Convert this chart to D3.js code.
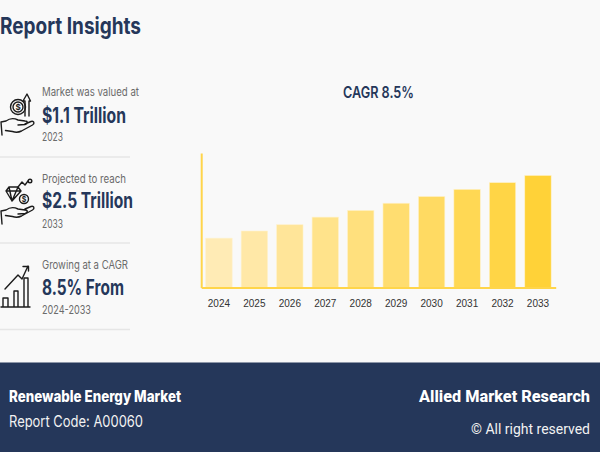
<!DOCTYPE html>
<html>
<head>
<meta charset="utf-8">
<script src="https://cdn.jsdelivr.net/npm/d3@7"></script>
<style>
  html, body { margin: 0; padding: 0; background: #f9f9f9; overflow: hidden; }
  svg { display: block; }
  text { font-family: "Inter", "Noto Sans", sans-serif; }
  .tick text { font-family: "Liberation Sans", Arial, sans-serif; }
  .narrow { font-family: Roboto, sans-serif; }
  .icon { fill: none; stroke: #1c1c1c; stroke-width: 1.4; stroke-linejoin: round; stroke-linecap: round; }
</style>
</head>
<body>
<div id="chart"></div>
<script>
/* chart values */
const years = ["2024", "2025", "2026", "2027", "2028", "2029", "2030", "2031", "2032", "2033"];
const values = [1.10, 1.26, 1.40, 1.57, 1.72, 1.88, 2.03, 2.19, 2.34, 2.50];

/* left column text */
const insightLabels = ["Market was valued at", "Projected to reach", "Growing at a CAGR"];
const insightValues = ["$1.1 Trillion", "$2.5 Trillion", "8.5% From"];
const insightYears = ["2023", "2033", "2024-2033"];

const width = 600;
const height = 452;
const navy = "#25375a";
const axisColor = "#ffd54a";

const svg = d3.select("#chart")
    .append("svg")
    .attr("width", width)
    .attr("height", height);

svg.append("rect")
    .attr("width", width)
    .attr("height", height)
    .attr("fill", "#f9f9f9");

// squeezes a text to the width it has in the picture
function label(str, x, y, size, weight, color, w) {
    return svg.append("text")
        .attr("x", x)
        .attr("y", y)
        .attr("font-size", size)
        .attr("font-weight", weight)
        .attr("fill", color)
        .attr("textLength", w)
        .attr("lengthAdjust", "spacingAndGlyphs")
        .text(str);
}

label("Report Insights", 0, 34, 23, 700, navy, 141);
label("CAGR 8.5%", 343, 98, 16, 600, navy, 71);

/* insight rows */
const rows = [
    { labelY: 96, valueY: 123, yearY: 141, ruleY: 157, lw: 97, vw: 84, yw: 21 },
    { labelY: 183, valueY: 208, yearY: 228, ruleY: 243, lw: 84, vw: 91, yw: 21 },
    { labelY: 269, valueY: 295, yearY: 314, ruleY: 329.5, lw: 86, vw: 82, yw: 49 }
];

rows.forEach((r, i) => {
    label(insightLabels[i], 42, r.labelY, 11.5, 400, "#6b6b6b", r.lw);
    label(insightValues[i], 42, r.valueY, 21, 700, navy, r.vw);
    label(insightYears[i], 42, r.yearY, 11.5, 400, "#6b6b6b", r.yw);
    svg.append("line")
        .attr("x1", 0)
        .attr("x2", 130)
        .attr("y1", r.ruleY)
        .attr("y2", r.ruleY)
        .attr("stroke", "#e6e6e6")
        .attr("stroke-width", 1.3);
});

/* icons */
const icons = svg.append("g").attr("class", "icon");
const hand = "M1 {a}l5 -1c4 -3 8 -3 12 -1l7 1c3 0 3 3 0 3.5l-7 0.5 M25 {b}l6 -2.5c3 -1 4 2 1.5 3.5l-11 6c-3 1.5 -6 1.5 -9 0.5l-7 -1 M1 {a}l1 13";

// first row: coin, arrow, hand
icons.append("circle").attr("cx", 18).attr("cy", 107).attr("r", 7.5);
icons.append("circle").attr("cx", 18).attr("cy", 107).attr("r", 5);
icons.append("path").attr("d", "M25 116V101H23L27 94L30.5 101H29V116");
icons.append("path").attr("d", hand.replace(/\{a\}/g, "122").replace("{b}", "124"));
icons.append("text").attr("x", 18).attr("y", 110).attr("font-size", 8).attr("font-weight", 700)
    .attr("text-anchor", "middle").attr("fill", "#222").attr("stroke", "none").text("$");

// second row: diamond, coin, zigzag, hand
icons.append("path").attr("d", "M6 191L9 187H18L21 191L12 201ZM6 191H21M9 187L12 201L18 187");
icons.append("circle").attr("cx", 24).attr("cy", 199).attr("r", 4.5);
icons.append("path").attr("d", "M18 187L22 182L25 185L28 181");
icons.append("circle").attr("cx", 30).attr("cy", 181).attr("r", 1.8);
icons.append("path").attr("d", hand.replace(/\{a\}/g, "211").replace("{b}", "209"));
icons.append("text").attr("x", 24).attr("y", 201.5).attr("font-size", 7).attr("font-weight", 700)
    .attr("text-anchor", "middle").attr("fill", "#222").attr("stroke", "none").text("$");

// third row: rising bars and arrow
icons.append("path").attr("d", "M1 307H30M3 307V298H8V307M14 307V291H18V307M24 307V278H28V307");
icons.append("path").attr("d", "M5 289L18 275L22 279L28 266M23 266.5H28.5V271");

/* bar chart */
const margin = { left: 201.2, right: 44.3, top: 153, bottom: 164.5 };

const xScale = d3.scaleBand()
    .domain(years)
    .range([margin.left, width - margin.right])
    .paddingInner(0.255)
    .paddingOuter(0.1275);

const yScale = d3.scaleLinear()
    .domain([0, 3])
    .range([height - margin.bottom, margin.top]);

const colorScale = d3.scaleLinear()
    .domain([0, years.length - 1])
    .range(["#ffebb5", "#ffd238"]);

svg.append("g")
    .selectAll("rect")
    .data(values)
    .join("rect")
    .attr("x", (d, i) => xScale(years[i]))
    .attr("y", d => yScale(d))
    .attr("width", xScale.bandwidth())
    .attr("height", d => yScale(0) - yScale(d))
    .attr("fill", (d, i) => colorScale(i))
    .attr("stroke", "#fff2cc")
    .attr("stroke-width", 0.6);

const xAxis = svg.append("g")
    .attr("transform", `translate(0,${yScale(0)})`)
    .call(d3.axisBottom(xScale).tickSize(0).tickPadding(12));
xAxis.select(".domain").attr("stroke", axisColor).attr("stroke-width", 2);
xAxis.selectAll("text").attr("font-size", 10).attr("fill", "#333");

const yAxis = svg.append("g")
    .attr("transform", `translate(${margin.left},0)`)
    .call(d3.axisLeft(yScale).tickSize(0).tickValues([]));
yAxis.select(".domain").attr("stroke", axisColor).attr("stroke-width", 2);

/* footer */
svg.append("rect")
    .attr("x", 0)
    .attr("y", 362.5)
    .attr("width", width)
    .attr("height", height - 362.5)
    .attr("fill", navy);

label("Renewable Energy Market", 9, 401.5, 15.5, 800, "#fff", 172);
label("Report Code: A00060", 9, 426.5, 16, 400, "#f2f2f2", 134);
label("Allied Market Research", 419, 402, 16.5, 800, "#fff", 171).attr("class", "narrow");
label("© All right reserved", 471, 434, 15, 400, "#f2f2f2", 119).attr("class", "narrow");
</script>
</body>
</html>
